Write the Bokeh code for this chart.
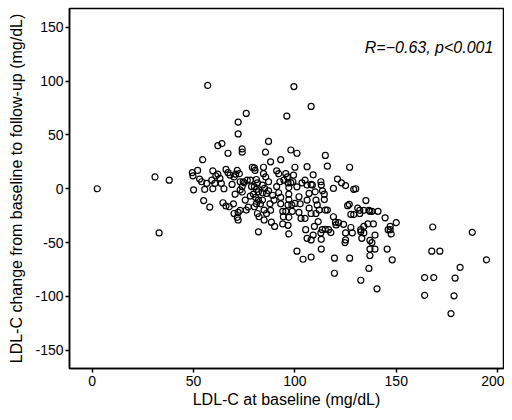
from bokeh.plotting import figure
from bokeh.models import Range1d, FixedTicker, Label, ColumnDataSource
from bokeh.embed import file_html
from bokeh.resources import INLINE

x_ticks = [0, 50, 100, 150, 200]
y_ticks = [-150, -100, -50, 0, 50, 100, 150]
y_tick_labels = ["-150", "-100", "-50", "0", "50", "100", "150"]

baseline = [
    2.5, 31, 33, 38, 57, 99.5, 108, 96, 76, 72, 72, 62, 64, 87, 98, 101, 74, 74, 67, 54.5,
    115, 93, 88, 85.5, 127, 106, 100, 116, 109, 121, 123, 125, 119, 129, 130, 135, 150, 147, 147, 144.5,
    141, 138, 136.5, 134, 132, 146, 147.5, 148, 145.5, 139.5, 138, 139.5, 137, 137, 136.5, 140.5, 132.5, 127, 119.5, 119.5,
    104, 101, 108, 113, 97, 82, 72, 55, 58, 168, 187.5, 167.5, 171.5, 194.5, 181.5, 164, 168.5, 179, 164, 178.5, 177,
    49.4, 49.7, 50, 52, 53, 54, 55.5, 56.5, 59.5, 59, 59.5, 60.5,
    61, 62, 63, 63.7, 65, 66, 67, 68, 69, 70, 70.8, 71.6, 72.6, 73, 73, 74, 74, 74.5, 75, 76.5,
    64.5, 66, 67.6, 69.7, 70.5, 70, 72, 73, 71.6,
    75.5, 77, 76, 78, 78.6, 79, 80, 80.3, 81, 81.5, 80, 81, 82, 79.5, 80.6, 78, 82, 83, 81, 80, 81.5, 82.3,
    84.5, 84.5, 85.6, 84, 85, 84, 86, 84, 84.8, 84.8, 86,
    87, 87, 87.7, 88, 89, 89.7, 90, 88.4, 91, 92, 92.6, 91, 92, 93, 93, 94, 94.3, 94, 94.6, 95.5, 96.3, 96.6, 97, 97, 97,
    96.6, 95.5, 97, 96.6, 98, 99, 98.5, 98.7, 99.3, 100,
    101, 102, 102.6, 102, 103, 105, 103.5, 105, 106, 107, 106, 107, 108, 108, 108.6, 105.3, 106, 108, 109, 109.6, 110.4,
    110.4, 110, 111, 112, 111.5,
    112.8, 113, 113.6, 114.5, 114.5, 115, 113.5, 112.8, 113, 115, 116.6, 117.7, 116, 119, 120, 120.3, 121.5, 124, 125, 125,
    124.7, 126, 126.8, 127.6, 128.3, 127.6, 129,
    131, 132, 132.5, 132.5, 133, 134, 134, 136, 137, 138.7, 137,
]

change = [
    0, 11, -41, 8, 96, 95, 76.5, 67.5, 70, 62, 51, 40, 42, 44, 36, 33, 37, 34, 33, 27,
    31, 27, 25, 34, 20, 20.5, 20, 21, 13, 9, 5.5, 3, 0.3, -0.5, 0, -11, -31.5, -35, -38, -27,
    -21, -21, -20, -20, -20, -38, -42, -66, -56, -43, -50, -56, -56, -62, -74, -93, -85, -64.5, -64.5, -78.5,
    -65.5, -58, -63.5, -56, -42, -40, -29, -11, -17, -35.5, -40.5, -58, -58, -66, -73, -82.5, -82.5, -83, -99, -99.5, -116,
    15, 12, -1, 17, 9, 6.5, -0.6, 5, 16.7, 8, 0, 5,
    12, 13.6, 9.6, 5, 0, 18, 15, 12.7, 4, 11, 13.6, 17, 14, 6.5, -1, -3, 2, 6.5, 5.6, 8,
    -13, -16, -16.7, -14, -5, -23, -22, -20, -26.5,
    -10.5, -17, -19.8, 8, 2, 20, 19.4, 17, 8.6, 5.5, 2, -0.6, -2.8, -5, -8, -6.8, -10.5, -14, -14, -16.7, -23, -26,
    20, 14, 11, 3.4, 0.3, -3.7, -4.3, -10.5, -19.8, -29, -23,
    6.5, -1.9, -14, -20, -6, -10.5, -35, -31, 16.7, 14, 6.5, 2, -3.7, -8, -14, -21, -26, -32.7, 8, 14, 11, 5.5, 1.2, -5, -10,
    -15, -21, -26.5, -34, 5.5, 6.5, -15, -21, 12.6, -13.6,
    1.8, -7.4, -14, -22, -27.5, -27.5, 5.5, 8, 3.4, -4.3, -10.5, -18, -23, 4, 3.4, -38, -46, -47.5, -43, -35, -23,
    -10.5, -2.8, -15, -19.8, -30.5,
    6.5, 3.4, -1.9, -5, -10, -19.8, -38, -41, -47, -37.6, -38, -40.7, -19.8, -26, -31, -33.6, -31.5, -33, -41, -47.5,
    -50, -15.7, -14.5, -23.8, -41, -36, -24,
    -18, -23, -38, -40, -46, -41, -35, -32.7, -21, -32.7, -48,
]

source = ColumnDataSource(data=dict(x=baseline, y=change))

FONT = "Liberation Sans"

p = figure(
    width=504, height=412,
    output_backend="svg", toolbar_location=None,
    x_range=Range1d(-11.2, 202.9), y_range=Range1d(-167, 167.5),
    min_border_left=69, min_border_right=1, min_border_top=8, min_border_bottom=44,
)

p.scatter("x", "y", source=source, size=6, fill_color=None,
          line_color="black", line_width=1.2)

p.xgrid.visible = False
p.ygrid.visible = False
p.outline_line_color = "black"
p.outline_line_width = 1.5

for ax in (p.xaxis[0], p.yaxis[0]):
    ax.axis_line_color = "black"
    ax.axis_line_width = 1.5
    ax.major_tick_in = 0
    ax.major_tick_out = 4
    ax.major_tick_line_width = 1.5
    ax.minor_tick_line_color = None
    ax.major_label_text_font = FONT
    ax.major_label_text_font_size = "14px"
    ax.major_label_text_color = "black"
    ax.axis_label_text_font = FONT
    ax.axis_label_text_font_size = "16px"
    ax.axis_label_text_font_style = "normal"
    ax.axis_label_text_color = "black"

p.xaxis.ticker = FixedTicker(ticks=x_ticks)
p.yaxis.ticker = FixedTicker(ticks=y_ticks)
p.yaxis.major_label_overrides = {t: s for t, s in zip(y_ticks, y_tick_labels)}
p.xaxis.axis_label = "LDL-C at baseline (mg/dL)"
p.yaxis.axis_label = "LDL-C change from baseline to follow-up (mg/dL)"
p.xaxis.major_label_standoff = 3
p.yaxis.major_label_standoff = 2
p.xaxis.axis_label_standoff = 2
p.yaxis.axis_label_standoff = 7

p.add_layout(Label(x=197.9, y=131.3, text="R=\u22120.63, p<0.001",
                   text_font=FONT, text_font_size="16px", text_font_style="italic",
                   text_align="right", text_baseline="middle", text_color="black"))

open("out.html", "w").write(file_html(p, INLINE))
